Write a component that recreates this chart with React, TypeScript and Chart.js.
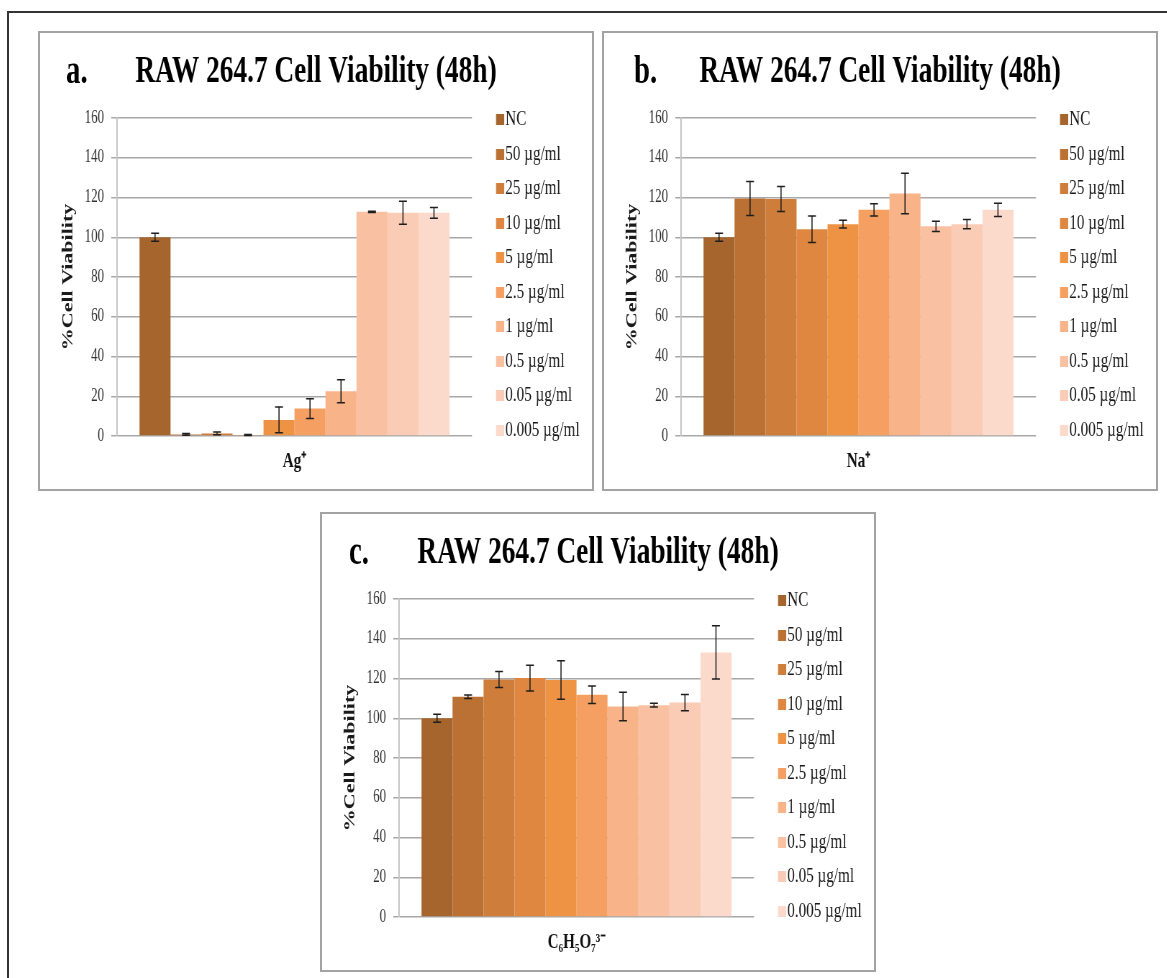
import React, { useEffect, useRef } from 'react';
import { Chart, registerables } from 'chart.js';

Chart.register(...registerables);

// ---------------- data ----------------
const seriesLabels = ['NC', '50 µg/ml', '25 µg/ml', '10 µg/ml', '5 µg/ml', '2.5 µg/ml', '1 µg/ml', '0.5 µg/ml', '0.05 µg/ml', '0.005 µg/ml'];
const seriesColors = ['#A5652D', '#BC7134', '#CE7D3B', '#DF8741', '#EE9244', '#F5A062', '#F8B388', '#F9C0A1', '#FACBB5', '#FBD9CB'];

const agValues = [100, 0.8, 1.3, 0.5, 8.1, 13.8, 22.5, 112.8, 112.3, 112.3];
const agErrors = [2, 0.4, 0.7, 0.2, 6.5, 5, 5.8, 0.3, 5.8, 2.7];

const naValues = [100, 119.5, 119.2, 104, 106.6, 113.8, 122, 105.5, 106.6, 113.8];
const naErrors = [2, 8.5, 6.3, 6.7, 2, 3.1, 10.2, 2.6, 2.3, 3.3];

const citValues = [100, 110.8, 119.5, 120.2, 119.2, 111.8, 105.9, 106.6, 107.9, 133.1];
const citErrors = [2, 0.9, 4, 6.5, 9.7, 4.4, 7.2, 1, 4.1, 13.4];

const yMin = 0;
const yMax = 160;
const yStep = 20;

const chartTitle = 'RAW 264.7 Cell Viability (48h)';
const yTitle = '%Cell Viability';

// ---------------- layout ----------------
const SERIF = '"Liberation Serif", "Times New Roman", serif';
const LW = 767; // logical canvas width
const DW = 552; // displayed width (horizontally condensed like the source)
const H = 456;
const S = DW / LW;
const L = (d: number) => d / S;

const PAD_L = 10;
const PAD_R = 10;
const PAD_T = 5;
const PAD_B = 5;
const LEG_PAD = 13.5;
const LEG_FONT = 21;
const SQ = 11;
const IMG_W = 18;
const itemX = L(456) + 1.5;
const legendLeft = itemX - LEG_PAD;
const WL = LW - PAD_R - legendLeft;
const GAP = legendLeft - L(432);
const LEG_TITLE_H = 86.5 - LEG_FONT / 2 - PAD_T - LEG_PAD;

let squareCache: HTMLCanvasElement[] | null = null;
function squares() {
  if (!squareCache) {
    squareCache = seriesColors.map((c) => {
      const cv = document.createElement('canvas');
      cv.width = IMG_W;
      cv.height = SQ;
      const g = cv.getContext('2d')!;
      g.fillStyle = c;
      g.fillRect(IMG_W - SQ, 0, SQ, SQ);
      return cv;
    });
  }
  return squareCache;
}

const legendWidthPlugin = {
  id: 'legendWidth',
  beforeLayout(chart: any) {
    const lg = chart.legend;
    if (lg && !lg.__fixed) {
      const orig = lg.fit;
      lg.fit = function () {
        orig.call(this);
        this.width = WL;
      };
      lg.__fixed = true;
    }
  },
};

const errorBarPlugin = {
  id: 'errorBars',
  afterDatasetsDraw(chart: any) {
    const { ctx } = chart;
    const y = chart.scales.y;
    chart.data.datasets.forEach((ds: any, i: number) => {
      const meta = chart.getDatasetMeta(i);
      meta.data.forEach((bar: any, j: number) => {
        const v = ds.data[j];
        const e = ds.errorBar[j];
        const x = bar.x;
        const yt = y.getPixelForValue(v + e);
        const yb = y.getPixelForValue(Math.max(v - e, 0));
        const cap = 5.5;
        ctx.save();
        ctx.strokeStyle = '#1e1e1e';
        ctx.lineWidth = 1.5;
        ctx.beginPath();
        ctx.moveTo(x, yt);
        ctx.lineTo(x, yb);
        ctx.moveTo(x - cap, yt);
        ctx.lineTo(x + cap, yt);
        ctx.moveTo(x - cap, yb);
        ctx.lineTo(x + cap, yb);
        ctx.stroke();
        ctx.restore();
      });
    });
  },
};

type PanelProps = {
  letter: string;
  letterLeft: number;
  category: string;
  values: number[];
  errors: number[];
  left: number;
  top: number;
};

function Panel({ letter, letterLeft, category, values, errors, left, top }: PanelProps) {
  const ref = useRef<HTMLCanvasElement | null>(null);

  useEffect(() => {
    if (!ref.current) return;
    const sq = squares();
    const chart = new Chart(ref.current, {
      type: 'bar',
      data: {
        labels: [category],
        datasets: seriesLabels.map((lab, i) => ({
          label: lab,
          data: [values[i]],
          errorBar: [errors[i]],
          backgroundColor: seriesColors[i],
          borderWidth: 0,
          categoryPercentage: 0.873,
          barPercentage: 1.0,
        })) as any,
      },
      options: {
        responsive: false,
        animation: false,
        devicePixelRatio: 1,
        events: [],
        layout: { padding: { left: PAD_L, right: PAD_R, top: PAD_T, bottom: PAD_B } },
        plugins: {
          title: {
            display: true,
            text: chartTitle,
            color: '#000',
            font: { family: SERIF, size: 38, weight: 'bold' },
            padding: { top: 11, bottom: 23.4 },
          },
          legend: {
            position: 'right',
            align: 'start',
            fullSize: true,
            title: {
              display: true,
              text: '',
              font: { family: SERIF, size: 10, lineHeight: 1 },
              padding: { top: LEG_TITLE_H - 10, bottom: 0 },
            },
            labels: {
              usePointStyle: true,
              boxWidth: 1,
              padding: LEG_PAD,
              color: '#1a1a1a',
              font: { family: SERIF, size: LEG_FONT },
              generateLabels: (c: any) => {
                const items = (Chart.defaults.plugins.legend.labels as any).generateLabels(c);
                return items.map((it: any, i: number) => ({ ...it, pointStyle: sq[i], lineWidth: 0 }));
              },
            },
          },
          tooltip: { enabled: false },
        },
        scales: {
          x: {
            grid: { display: false, drawTicks: false },
            border: { display: false },
            ticks: { color: '#111', font: { family: SERIF, size: 21, weight: 'bold' }, padding: 13 },
            afterFit: (s: any) => {
              s.height = H - PAD_B - 403;
            },
          },
          y: {
            min: yMin,
            max: yMax,
            ticks: { stepSize: yStep, color: '#333', font: { family: SERIF, size: 18 }, padding: 10 },
            grid: { color: '#a8a8a8', lineWidth: 1.5, tickLength: 8 },
            border: { display: true, color: '#c6c6c6', width: 2 },
            title: {
              display: true,
              text: yTitle,
              color: '#1a1a1a',
              font: { family: SERIF, size: 22, weight: 'bold' },
              padding: { top: 16, bottom: 0 },
            },
            afterFit: (s: any) => {
              s.width = L(77) - PAD_L;
            },
          },
          gap: {
            type: 'linear',
            position: 'right',
            display: true,
            grid: { display: false, drawTicks: false },
            border: { display: false },
            ticks: { display: false },
            afterFit: (s: any) => {
              s.width = GAP;
            },
          },
        },
      } as any,
      plugins: [legendWidthPlugin, errorBarPlugin] as any,
    });
    return () => chart.destroy();
  }, []);

  return (
    <div
      style={{
        position: 'absolute',
        left,
        top,
        width: DW,
        height: H,
        border: '2px solid #a3a3a3',
        background: '#fff',
      }}
    >
      <canvas
        ref={ref}
        width={LW}
        height={H}
        style={{ position: 'absolute', left: 0, top: 0, width: DW, height: H }}
      />
      <div
        style={{
          position: 'absolute',
          left: letterLeft,
          top: 17,
          fontFamily: SERIF,
          fontWeight: 'bold',
          fontSize: 40,
          lineHeight: '40px',
          transform: `scaleX(${S})`,
          transformOrigin: 'left top',
          color: '#000',
          whiteSpace: 'nowrap',
        }}
      >
        {letter}
      </div>
    </div>
  );
}

export default function App() {
  return (
    <div style={{ position: 'fixed', inset: 0, overflow: 'hidden', background: '#fff' }}>
      <div
        style={{
          position: 'absolute',
          left: 7,
          top: 11,
          right: -10,
          bottom: -10,
          borderTop: '2px solid #333',
          borderLeft: '2px solid #333',
        }}
      />
      <Panel letter="a." letterLeft={26} category="Ag⁺" values={agValues} errors={agErrors} left={38} top={31} />
      <Panel letter="b." letterLeft={30} category="Na⁺" values={naValues} errors={naErrors} left={602} top={31} />
      <Panel letter="c." letterLeft={27} category="C₆H₅O₇³⁻" values={citValues} errors={citErrors} left={320} top={512} />
    </div>
  );
}
